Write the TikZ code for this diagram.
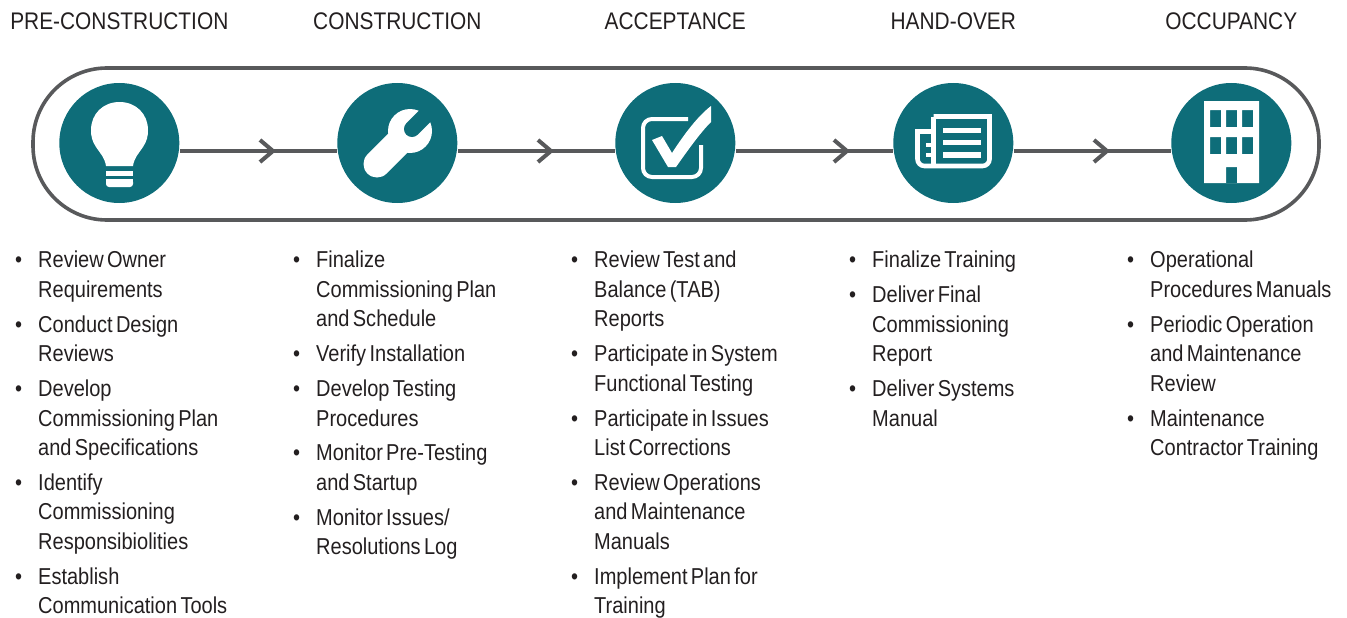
\documentclass[tikz,border=0pt]{standalone}
\usepackage{fontspec}
\setmainfont[FakeStretch=0.87,WordSpace=1.6]{Liberation Sans}
\definecolor{teal}{HTML}{0E6D79}
\definecolor{slate}{HTML}{58595B}
\definecolor{ink}{HTML}{231F20}
\newenvironment{steplist}{\fontsize{23}{29.45}\selectfont\begin{list}{\textbullet}{%
  \setlength\leftmargin{24pt}\setlength\labelwidth{8pt}\setlength\labelsep{16pt}%
  \setlength\topsep{0pt}\setlength\partopsep{0pt}\setlength\parsep{0pt}\setlength\itemsep{5.4pt}}}{\end{list}}
\tikzset{
  stage/.style={circle,fill=teal,minimum size=120pt,inner sep=0pt},
  header/.style={font=\fontsize{24}{28}\selectfont,text=ink,inner sep=0pt},
  itemlist/.style={anchor=north west,inner sep=0pt,text width=270pt,text=ink},
  flow/.style={draw=slate,line width=4pt},
  chevron/.style={draw=slate,line width=4pt,miter limit=10},
  icon/.style={fill=white,draw=none}
}
\begin{document}
\begin{tikzpicture}[x=1pt,y=-1pt]
\useasboundingbox (0,0) rectangle (1347,618);
\draw[draw=slate,line width=3.6pt,rounded corners=74pt] (33,68) rectangle (1319,220);
\coordinate (flowline) at (0,151);
\node[stage] (bulb) at (119.3,143) {};
\node[stage] (wrench) at (397.3,143) {};
\node[stage] (check) at (675.3,143) {};
\node[stage] (paper) at (953.3,143) {};
\node[stage] (building) at (1231.3,143) {};
%% flow lines
\foreach \from/\to/\tip in {bulb/wrench/273,wrench/check/551,check/paper/847,paper/building/1107}{
  \draw[flow] (\from.east |- flowline) -- (\to.west |- flowline);
  \draw[chevron] (\tip-13,140) -- (\tip,151) -- (\tip-13,162);
}
%% headers
\foreach \stagename/\title in {bulb/PRE-CONSTRUCTION,wrench/CONSTRUCTION,check/ACCEPTANCE,paper/HAND-OVER,building/OCCUPANCY}
  \node[header] at (\stagename |- 0,21.5) {\title};
%% bulb
\fill[icon] (106,166) .. controls (105,158) and (100,153) .. (96,147)
  .. controls (92,141) and (91,136) .. (91,130)
  .. controls (91,114) and (103,102) .. (119.5,102)
  .. controls (136,102) and (148,114) .. (148,130)
  .. controls (148,136) and (147,141) .. (143,147)
  .. controls (139,153) and (134,158) .. (133,166) -- cycle;
\fill[icon] (106,171) rectangle (133,175.5);
\fill[icon,rounded corners=3pt] (106,179) -- (133,179) -- (133,187) -- (106,187) -- cycle;
\fill[icon] (106,179) rectangle (133,183);
%% wrench
\draw[white,line width=27pt,line cap=round] (377,164) -- (410,131);
\fill[icon] (410,131) circle (22);
\draw[teal,line width=16pt,line cap=round] (412,129) -- (428,113);
%% check box
\draw[white,line width=4pt,rounded corners=9pt] (688,119) -- (643,119) -- (643,177) -- (701,177) -- (701,145);
\fill[icon] (652,140) -- (662,136) -- (672,153) .. controls (685,133) and (698,116) .. (711,106)
  -- (711,122) .. controls (700,133) and (688,150) .. (676,167) -- (668,167) -- cycle;
%% paper
\draw[white,line width=4.6pt,line join=miter] (933.5,116.5) -- (989.5,116.5) [rounded corners=7pt] -- (989.5,166) -- (917.5,166) [sharp corners] -- (917.5,131.5) -- (933.5,131.5);
\draw[white,line width=4.6pt] (933.5,116.5) -- (933.5,166);
\fill[icon] (926,143) rectangle (932,147);
\fill[icon] (926,153) rectangle (932,157);
\fill[icon] (943,128) rectangle (981,133);
\fill[icon] (943,140) rectangle (981,145);
\fill[icon] (943,152) rectangle (981,158);
%% building
\fill[icon,even odd rule] (1204,101) rectangle (1259,183)
  (1210,110) rectangle (1221,127) (1226,110) rectangle (1237,127) (1242,110) rectangle (1253,127)
  (1210,137) rectangle (1221,154) (1226,137) rectangle (1237,154) (1242,137) rectangle (1253,154)
  (1226,167) rectangle (1237,183);
%% lists
\node[itemlist] (list1) at (14,238.3) {\begin{steplist}
\item Review Owner\\Requirements
\item Conduct Design\\Reviews
\item Develop\\Commissioning Plan\\and Specifications
\item Identify\\Commissioning\\Responsibiolities
\item Establish\\Communication Tools
\end{steplist}};
\node[itemlist] (list2) at (292,238.3) {\begin{steplist}
\item Finalize\\Commissioning Plan\\and Schedule
\item Verify Installation
\item Develop Testing\\Procedures
\item Monitor Pre-Testing\\and Startup
\item Monitor Issues/\\Resolutions Log
\end{steplist}};
\node[itemlist] (list3) at (570,238.3) {\begin{steplist}
\item Review Test and\\Balance (TAB)\\Reports
\item Participate in System\\Functional Testing
\item Participate in Issues\\List Corrections
\item Review Operations\\and Maintenance\\Manuals
\item Implement Plan for\\Training
\end{steplist}};
\node[itemlist] (list4) at (848,238.3) {\begin{steplist}
\item Finalize Training
\item Deliver Final\\Commissioning\\Report
\item Deliver Systems\\Manual
\end{steplist}};
\node[itemlist,text width=220pt] (list5) at (1126,238.3) {\begin{steplist}
\item Operational\\Procedures Manuals
\item Periodic Operation\\and Maintenance\\Review
\item Maintenance\\Contractor Training
\end{steplist}};
\end{tikzpicture}
\end{document}
